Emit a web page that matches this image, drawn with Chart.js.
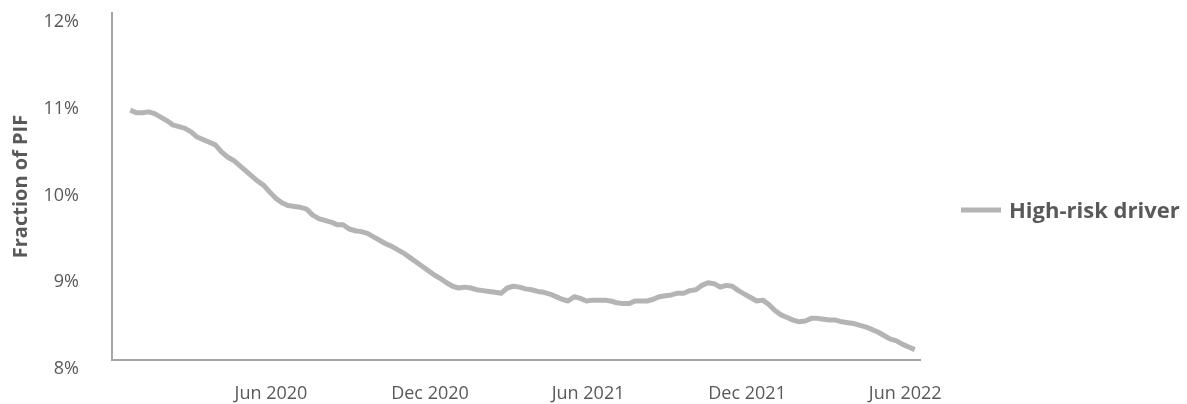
<!DOCTYPE html>
<html>
<head>
<meta charset="utf-8">
<script src="https://cdn.jsdelivr.net/npm/chart.js@4.4.1/dist/chart.umd.min.js"></script>
<style>
  html, body { margin: 0; padding: 0; background: #fff; }
  #wrap { width: 1187px; height: 404px; position: relative; }
</style>
</head>
<body>
<div id="wrap"><canvas id="riskChart"></canvas></div>
<script>
// weekly readings, first one in the week of 22 Dec 2019
const startDate = '2019-12-22';
const seriesName = 'High-risk driver';
const highRisk = [
  10.88, 10.85, 10.85, 10.86, 10.84, 10.80, 10.76, 10.71, 10.69, 10.67,
  10.63, 10.57, 10.54, 10.51, 10.48, 10.40, 10.34, 10.30, 10.24, 10.18,
  10.12, 10.06, 10.01, 9.93, 9.86, 9.81, 9.78, 9.77, 9.76, 9.74,
  9.67, 9.63, 9.61, 9.59, 9.56, 9.56, 9.51, 9.49, 9.48, 9.46,
  9.42, 9.38, 9.34, 9.31, 9.27, 9.23, 9.18, 9.13, 9.08, 9.03,
  8.98, 8.94, 8.89, 8.85, 8.83, 8.84, 8.83, 8.81, 8.80, 8.79,
  8.78, 8.77, 8.83, 8.85, 8.84, 8.82, 8.81, 8.79, 8.78, 8.76,
  8.73, 8.70, 8.68, 8.73, 8.71, 8.68, 8.69, 8.69, 8.69, 8.68,
  8.66, 8.65, 8.65, 8.68, 8.68, 8.68, 8.70, 8.73, 8.74, 8.75,
  8.77, 8.77, 8.80, 8.81, 8.86, 8.89, 8.88, 8.84, 8.86, 8.85,
  8.80, 8.76, 8.72, 8.68, 8.69, 8.64, 8.57, 8.52, 8.49, 8.46,
  8.44, 8.45, 8.48, 8.48, 8.47, 8.46, 8.46, 8.44, 8.43, 8.42,
  8.40, 8.38, 8.35, 8.32, 8.28, 8.24, 8.22, 8.18, 8.15, 8.12
];

const tickDates = ['2020-06-01', '2020-12-01', '2021-06-01', '2021-12-01', '2022-06-01'];
const tickLabels = ['Jun 2020', 'Dec 2020', 'Jun 2021', 'Dec 2021', 'Jun 2022'];
const axisStart = '2019-12-01';
const axisEnd = '2022-06-18';
const yTicks = [8, 9, 10, 11, 12];

const DAY = 86400000;
const dayNum = s => Date.parse(s + 'T00:00:00Z') / DAY;
const points = highRisk.map((v, i) => ({ x: dayNum(startDate) + 7 * i, y: v }));

const textGrey = '#595959';
const lineGrey = '#b4b4b4';
const axisGrey = '#a6a6a6';
const font = '"Open Sans", "DejaVu Sans", sans-serif';

// legend sits to the right of the plot, drawn by hand
const sideLegend = {
  id: 'sideLegend',
  afterDraw(chart) {
    const ctx = chart.ctx;
    const ds = chart.data.datasets[0];
    ctx.save();
    ctx.strokeStyle = ds.borderColor;
    ctx.lineWidth = 5;
    ctx.beginPath();
    ctx.moveTo(961, 210);
    ctx.lineTo(1001, 210);
    ctx.stroke();
    ctx.fillStyle = textGrey;
    ctx.font = 'bold 22px ' + font;
    ctx.textBaseline = 'middle';
    ctx.textAlign = 'left';
    ctx.fillText(ds.label, 1009, 212);
    ctx.restore();
  }
};

new Chart(document.getElementById('riskChart'), {
  type: 'line',
  data: {
    datasets: [{
      label: seriesName,
      data: points,
      borderColor: lineGrey,
      borderWidth: 5,
      borderJoinStyle: 'round',
      pointRadius: 0,
      tension: 0
    }]
  },
  options: {
    responsive: true,
    maintainAspectRatio: false,
    animation: false,
    layout: { padding: { top: 13, right: 267, bottom: 0, left: 0 } },
    plugins: {
      legend: { display: false },
      tooltip: { enabled: false }
    },
    scales: {
      x: {
        type: 'linear',
        min: dayNum(axisStart),
        max: dayNum(axisEnd),
        grid: { display: false, drawTicks: false },
        border: { display: true, color: axisGrey, width: 2 },
        afterBuildTicks: s => { s.ticks = tickDates.map(d => ({ value: dayNum(d) })); },
        afterFit: s => { s.height = 44; },
        ticks: {
          autoSkip: false,
          maxRotation: 0,
          padding: 23,
          color: textGrey,
          font: { family: font, size: 18 },
          callback: (v, i) => tickLabels[i]
        }
      },
      y: {
        min: 8,
        max: 12,
        grid: { display: false, drawTicks: false },
        border: { display: true, color: axisGrey, width: 2 },
        afterBuildTicks: s => { s.ticks = yTicks.map(v => ({ value: v })); },
        afterFit: s => {
          s.width = 112;
          // tick padding is only meant to push labels left, not to shrink the plot
          s.paddingTop = 0;
          s.paddingBottom = 0;
        },
        ticks: {
          padding: 33,
          labelOffset: 9,
          color: textGrey,
          font: { family: font, size: 18 },
          callback: v => v + '%'
        },
        title: {
          display: true,
          text: 'Fraction of PIF',
          color: textGrey,
          font: { family: font, size: 20, weight: 'bold' },
          padding: { top: 9, bottom: 0 }
        }
      }
    }
  },
  plugins: [sideLegend]
});
</script>
</body>
</html>
